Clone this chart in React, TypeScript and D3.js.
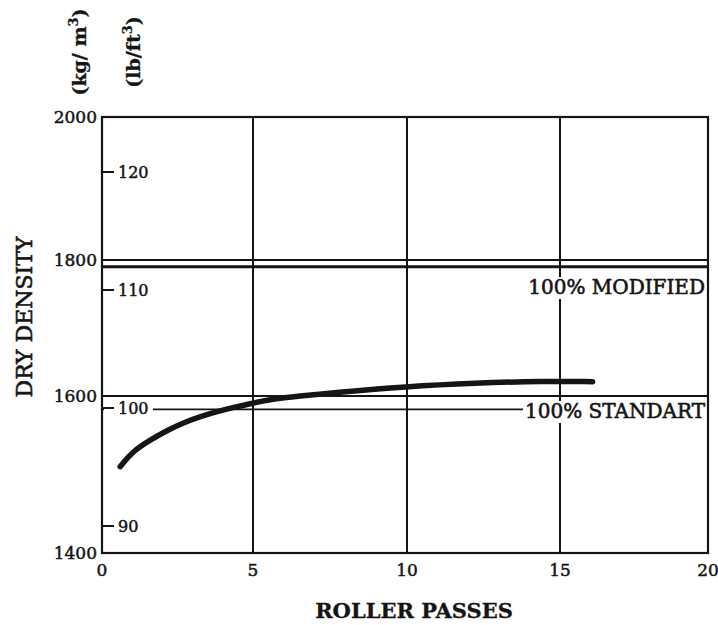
import React, { useRef, useEffect } from 'react';
import * as d3 from 'd3';

// roller passes vs dry density (kg/m3)
const PASSES = [0.6, 1.0, 1.6, 2.2, 2.7, 3.2, 3.8, 4.3, 5.0, 5.6, 6.5, 7.6, 10.0, 12.2, 14.5, 16.1];
const DENSITY = [1510, 1529, 1544, 1557, 1566, 1573, 1580, 1585, 1591, 1596, 1600, 1605, 1614, 1619, 1622, 1621];

const X_TICKS = [0, 5, 10, 15, 20];
const KG_TICKS = [1400, 1600, 1800, 2000];
const LB_TICKS = [90, 100, 110, 120];

const MODIFIED = 1790;
const STANDARD = 1583;
const MODIFIED_LABEL = '100% MODIFIED';
const STANDARD_LABEL = '100% STANDART';

const FONT = '"DejaVu Serif", serif';
const INK = '#151515';

export default function App() {
  const svgRef = useRef<SVGSVGElement>(null);

  useEffect(() => {
    const width = 718;
    const height = 625;
    const svg = d3.select(svgRef.current).attr('width', width).attr('height', height);
    svg.selectAll('*').remove();

    // the scan's axes are slightly uneven, so the scales are piecewise
    const x = d3.scaleLinear().domain([0, 5, 10, 15, 20]).range([102, 253, 407, 560, 708]);
    const y = d3.scaleLinear().domain([1400, 1600, 1800, 2000]).range([553, 396, 260, 117]);
    const yLb = d3.scaleLinear().domain([90, 120]).range([526, 172]);

    const [x0, x1] = [x(0), x(20)];
    const [yTop, yBot] = [y(2000), y(1400)];

    svg.append('rect').attr('width', width).attr('height', height).attr('fill', '#fff');

    // scanned print looks heavy, so texts get a thin outline
    const heavy = (sel: any, w = 0.5) =>
      sel.attr('fill', INK).attr('stroke', INK).attr('stroke-width', w);

    const g = svg.append('g');

    // vertical grid
    g.selectAll('line.vgrid')
      .data(X_TICKS)
      .join('line')
      .attr('class', 'vgrid')
      .attr('x1', (d) => x(d))
      .attr('x2', (d) => x(d))
      .attr('y1', yTop)
      .attr('y2', yBot)
      .attr('stroke', INK)
      .attr('stroke-width', 2);

    // horizontal grid
    g.selectAll('line.hgrid')
      .data(KG_TICKS)
      .join('line')
      .attr('class', 'hgrid')
      .attr('x1', x0)
      .attr('x2', x1)
      .attr('y1', (d) => y(d))
      .attr('y2', (d) => y(d))
      .attr('stroke', INK)
      .attr('stroke-width', 2);

    // reference lines
    g.append('line')
      .attr('x1', x0).attr('x2', x1)
      .attr('y1', y(MODIFIED)).attr('y2', y(MODIFIED))
      .attr('stroke', INK).attr('stroke-width', 3);
    g.append('line')
      .attr('x1', x0).attr('x2', x1 - 2)
      .attr('y1', y(STANDARD)).attr('y2', y(STANDARD))
      .attr('stroke', INK).attr('stroke-width', 1.6);

    // reference labels with white backing
    const refLabel = (text: string, baseline: number) => {
      const t = g.append('text')
        .attr('x', 705)
        .attr('y', baseline)
        .attr('text-anchor', 'end')
        .attr('font-family', FONT)
        .attr('font-size', 20)
        .text(text);
      heavy(t, 0.6);
      const bb = (t.node() as SVGTextElement).getBBox();
      g.insert('rect', () => t.node())
        .attr('x', bb.x - 2)
        .attr('y', bb.y + 2)
        .attr('width', Math.min(bb.width + 3, x1 - 1 - (bb.x - 2)))
        .attr('height', bb.height - 2)
        .attr('fill', '#fff');
    };
    refLabel(MODIFIED_LABEL, 294);
    refLabel(STANDARD_LABEL, 418);

    // lb/ft3 inner ticks
    const lb = g.selectAll('g.lb').data(LB_TICKS).join('g').attr('class', 'lb')
      .attr('transform', (d) => `translate(0,${yLb(d)})`);
    lb.append('rect')
      .attr('x', x0 + 2).attr('y', -9).attr('width', 49).attr('height', 18)
      .attr('fill', '#fff');
    lb.append('line')
      .attr('x1', x0).attr('x2', x0 + 12)
      .attr('stroke', INK).attr('stroke-width', 2);
    heavy(lb.append('text')
      .attr('x', x0 + 16)
      .attr('dy', '0.35em')
      .attr('font-family', FONT)
      .attr('font-size', 16)
      .text((d) => d));

    // curve
    const line = d3.line<number>()
      .x((_, i) => x(PASSES[i]))
      .y((d) => y(d))
      .curve(d3.curveBasis);
    g.append('path')
      .attr('d', line(DENSITY))
      .attr('fill', 'none')
      .attr('stroke', INK)
      .attr('stroke-width', 5.5)
      .attr('stroke-linecap', 'round');

    // frame on top
    g.append('rect')
      .attr('x', x0).attr('y', yTop)
      .attr('width', x1 - x0).attr('height', yBot - yTop)
      .attr('fill', 'none').attr('stroke', INK).attr('stroke-width', 2.2);

    // kg/m3 labels
    heavy(g.selectAll('text.kg')
      .data(KG_TICKS)
      .join('text')
      .attr('class', 'kg')
      .attr('x', 97)
      .attr('y', (d) => y(d))
      .attr('dy', '0.35em')
      .attr('text-anchor', 'end')
      .attr('font-family', FONT)
      .attr('font-size', 17)
      .text((d) => d));

    // x labels
    heavy(g.selectAll('text.xt')
      .data(X_TICKS)
      .join('text')
      .attr('class', 'xt')
      .attr('x', (d) => x(d))
      .attr('y', 576)
      .attr('text-anchor', 'middle')
      .attr('font-family', FONT)
      .attr('font-size', 17)
      .text((d) => d));

    // axis titles
    heavy(svg.append('text')
      .attr('x', 414).attr('y', 618)
      .attr('text-anchor', 'middle')
      .attr('font-family', FONT)
      .attr('font-weight', 'bold')
      .attr('font-size', 21)
      .text('ROLLER PASSES'), 0.3);

    heavy(svg.append('text')
      .attr('transform', 'translate(32,317) rotate(-90)')
      .attr('text-anchor', 'middle')
      .attr('font-family', FONT)
      .attr('font-size', 22)
      .text('DRY DENSITY'), 0.6);

    const unit = (cx: number, main: string, tail: string) => {
      const t = svg.append('text')
        .attr('transform', `translate(${cx},52) rotate(-90)`)
        .attr('text-anchor', 'middle')
        .attr('font-family', FONT)
        .attr('font-weight', 'bold')
        .attr('font-size', 19);
      heavy(t, 0.3);
      t.append('tspan').text(main);
      t.append('tspan').attr('dy', -8).attr('font-size', 13).text('3');
      t.append('tspan').attr('dy', 8).text(tail);
    };
    unit(86, '(kg/ m', ')');
    unit(140, '(lb/ft', ')');
  }, []);

  return (
    <div style={{ position: 'absolute', left: 0, top: 0 }}>
      <svg ref={svgRef} style={{ display: 'block' }} />
    </div>
  );
}
